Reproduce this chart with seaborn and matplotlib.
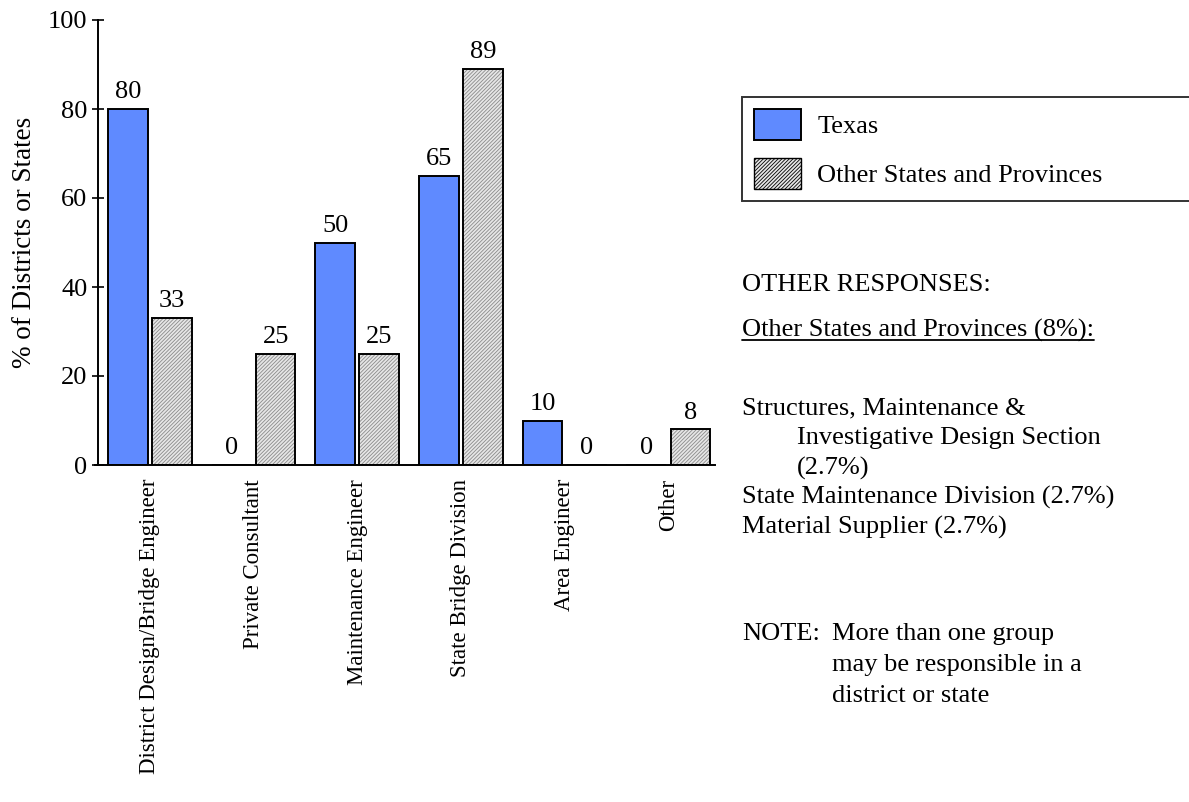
import matplotlib
matplotlib.use("Agg")
import matplotlib.pyplot as plt
from matplotlib.patches import Patch, Rectangle
import numpy as np
import pandas as pd
import seaborn as sns

categories = ["District Design/Bridge Engineer", "Private Consultant",
              "Maintenance Engineer", "State Bridge Division",
              "Area Engineer", "Other"]
texas = [80, 0, 50, 65, 10, 0]
other_states = [33, 25, 25, 89, 0, 8]
series_names = ["Texas", "Other States and Provinces"]
y_ticks = [0, 20, 40, 60, 80, 100]

TEXAS_BLUE = "#5F8AFF"
HATCH_GRAY = "#E6E6E6"
HATCH_LINE = "#8a8a8a"
HATCH = "/////////"

df = pd.DataFrame({
    "category": categories * 2,
    "value": texas + other_states,
    "series": [series_names[0]] * len(categories) + [series_names[1]] * len(categories),
})

sns.set_theme(style="white")
plt.rcParams["font.family"] = ["Liberation Serif", "DejaVu Serif"]
plt.rcParams["hatch.linewidth"] = 0.6
for key in ["text.color", "axes.labelcolor", "xtick.color", "ytick.color"]:
    plt.rcParams[key] = "black"

fig = plt.figure(figsize=(11.89, 8.02), dpi=100)
ax = fig.add_axes([98 / 1189, 1 - 465 / 802, (715 - 98) / 1189, (465 - 20) / 802])

sns.barplot(data=df, x="category", y="value", hue="series",
            order=categories, hue_order=series_names,
            palette=[TEXAS_BLUE, HATCH_GRAY], width=0.85, gap=0.1,
            linewidth=1.4, edgecolor="black", saturation=1,
            legend=False, ax=ax)

# Hatched fill for the second series, with a crisp black outline on top
for bar in ax.containers[1]:
    bar.set_hatch(HATCH)
    bar.set_edgecolor(HATCH_LINE)
    bar.set_linewidth(0)
    ax.add_patch(Rectangle(bar.get_xy(), bar.get_width(), bar.get_height(),
                           fill=False, edgecolor="black", linewidth=1.4,
                           zorder=bar.get_zorder() + 0.1))

# Value labels above each bar
for container, vals in zip(ax.containers, [texas, other_states]):
    for bar, v in zip(container, vals):
        ax.text(bar.get_x() + bar.get_width() / 2, v + 1.3, f"{v}",
                ha="center", va="bottom", fontsize=19)

ax.set_ylim(0, 100)
ax.set_xlim(-0.5, 5.45)
ax.set_yticks(y_ticks)
ax.set_yticklabels([str(t) for t in y_ticks], fontsize=19)
ax.set_ylabel("% of Districts or States", fontsize=19.5, labelpad=8)
ax.set_xlabel("")
ax.set_xticks(range(len(categories)))
ax.set_xticklabels(categories, rotation=90, fontsize=16.5, va="top")
ax.tick_params(axis="y", direction="inout", length=9, width=1.2, pad=3, left=True)
ax.tick_params(axis="x", length=0, pad=10)
for side in ["top", "right"]:
    ax.spines[side].set_visible(False)
for side in ["left", "bottom"]:
    ax.spines[side].set_color("black")
    ax.spines[side].set_linewidth(1.4)
ax.spines["bottom"].set_bounds(-0.53, 5.45)

# Legend box running off the right edge
handles = [Patch(facecolor=TEXAS_BLUE, edgecolor="black", linewidth=1.4),
           Patch(facecolor=HATCH_GRAY, edgecolor=HATCH_LINE, hatch=HATCH, linewidth=1.0)]
leg = fig.legend(handles, series_names, loc="center left",
                 bbox_to_anchor=(742 / 1189, 1 - 200 / 802, 0.5, 102 / 802),
                 mode="expand", fontsize=19, frameon=True, fancybox=False,
                 edgecolor="black", handlelength=1.8, handleheight=1.45,
                 handletextpad=0.6, labelspacing=0.65, borderpad=0.45,
                 borderaxespad=0)
leg.get_frame().set_linewidth(1.4)
for h in leg.legend_handles:
    h.set_edgecolor("black")

# Notes on the right
fs = 19
x0 = 742 / 1189
x1 = 797 / 1189
def fy(py):
    return 1 - py / 802

fig.text(x0, fy(285), "OTHER RESPONSES:", fontsize=fs, va="center")
t = fig.text(x0, fy(330), "Other States and Provinces (8%):", fontsize=fs, va="center")
fig.canvas.draw()
bb = t.get_window_extent().transformed(fig.transFigure.inverted())
fig.add_artist(plt.Line2D([bb.x0, bb.x1], [bb.y0 + 0.002, bb.y0 + 0.002],
                          transform=fig.transFigure, color="black", linewidth=1.3))
fig.text(x0, fy(408), "Structures, Maintenance &", fontsize=fs, va="center")
fig.text(x1, fy(438), "Investigative Design Section", fontsize=fs, va="center")
fig.text(x1, fy(468), "(2.7%)", fontsize=fs, va="center")
fig.text(x0, fy(497), "State Maintenance Division (2.7%)", fontsize=fs, va="center")
fig.text(x0, fy(527), "Material Supplier (2.7%)", fontsize=fs, va="center")
fig.text(x0, fy(634), "NOTE:", fontsize=fs, va="center")
fig.text(832 / 1189, fy(634), "More than one group", fontsize=fs, va="center")
fig.text(832 / 1189, fy(665), "may be responsible in a", fontsize=fs, va="center")
fig.text(832 / 1189, fy(696), "district or state", fontsize=fs, va="center")

fig.savefig("out.png", dpi=100, facecolor="white")
